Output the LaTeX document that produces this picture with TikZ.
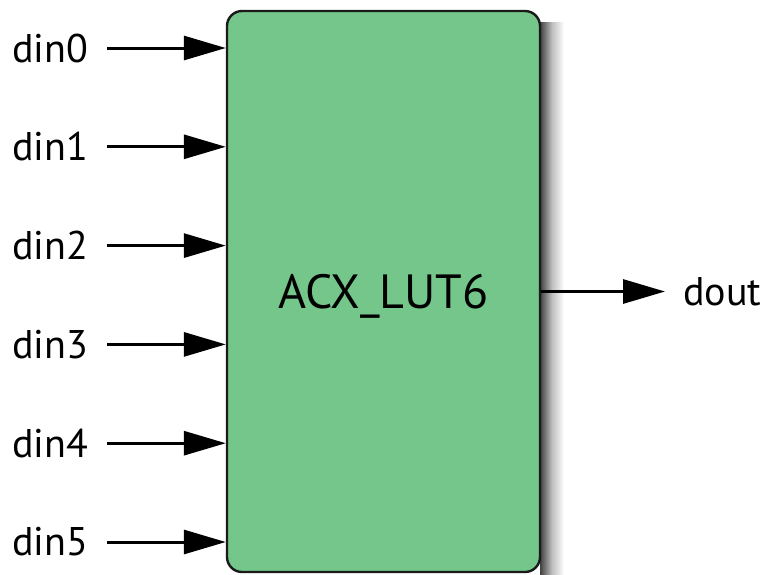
\documentclass[tikz,border=0pt]{standalone}
\usepackage{fontspec}
\setmainfont{PT Sans}
\usetikzlibrary{arrows.meta,positioning}
\definecolor{lgreen}{HTML}{74C68B}
\definecolor{lborder}{HTML}{1A1A1A}
\tikzset{
  >={Triangle[length=21pt,width=12pt]},
  lbox/.style={draw=lborder, fill=lgreen, line width=1.2pt, rounded corners=7.5pt,
               minimum width=156.5pt, minimum height=280.5pt, inner sep=0pt,
               text depth=0pt, font=\fontsize{24}{28}\selectfont},
  lpin/.style={font=\fontsize{20}{24}\selectfont, inner sep=0pt, anchor=west},
  lsig/.style={->, line width=1.5pt},
}

\begin{document}
\begin{tikzpicture}[x=0.5pt,y=-0.5pt]
  \useasboundingbox (0,0) rectangle (771,574);

  % sombra
  \shade[left color=black!75, right color=white, middle color=black!25]
    (540,22) rectangle (564,574);

  % bloco
  \node[lbox] (lut) at (383.5,291.5) {ACX\_LUT6};

  % entradas
  \foreach \i in {0,...,5}{
    \node[lpin] (din\i) at (12,48+98.8*\i) {din\i};
    \coordinate (in\i) at (107,48+98.8*\i);
    \draw[lsig] (in\i) -- (lut.west |- in\i);
  }

  % saida
  \coordinate (out) at (665,291.5);
  \draw[lsig] (lut.east) -- (out);
  \node[lpin] (dout) at (683,291.5) {dout};

\end{tikzpicture}
\end{document}
